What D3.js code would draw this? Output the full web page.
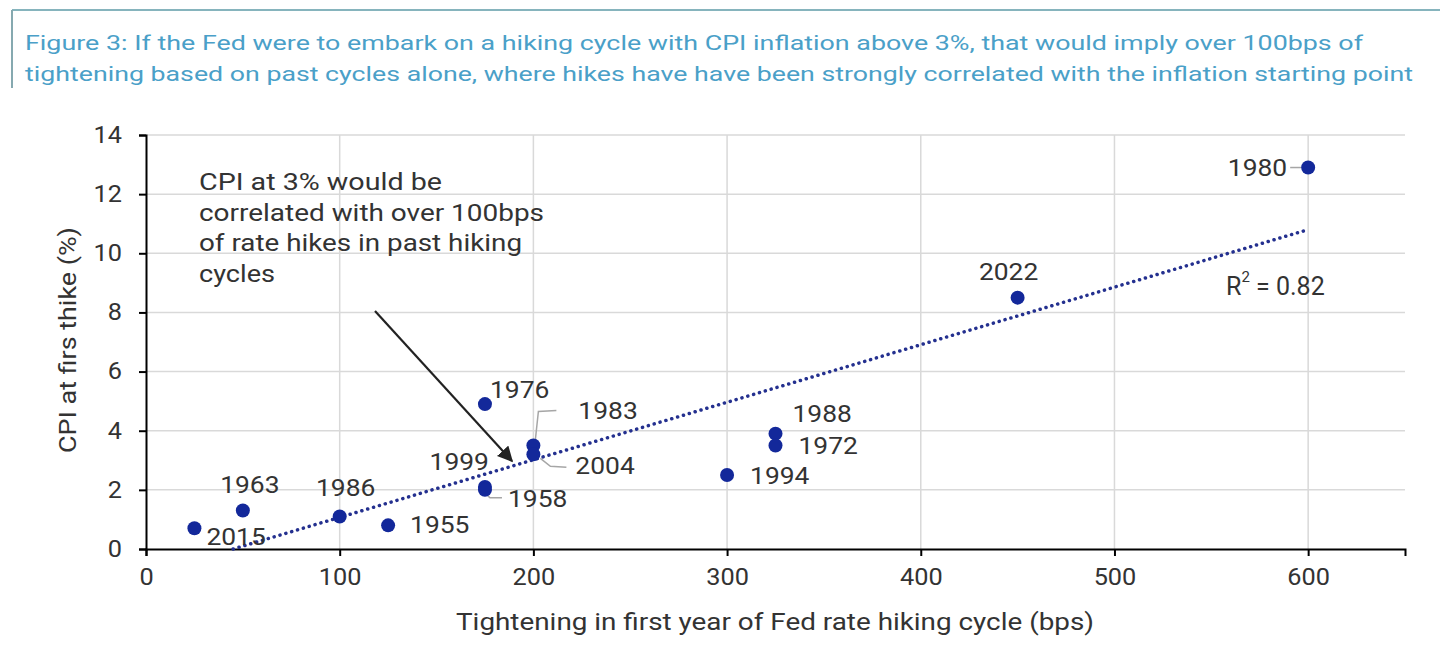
<!DOCTYPE html>
<html>
<head>
<meta charset="utf-8">
<script src="https://cdn.jsdelivr.net/npm/d3@7"></script>
<style>
  body { margin: 0; background: #fff; }
  svg { font-family: Roboto, 'Liberation Sans', sans-serif; }
</style>
</head>
<body>
<div id="container"></div>
<script>
// hiking cycles: year, tightening in first year (bps), CPI at first hike (%)
const years = ['2015', '1963', '1986', '1955', '1976', '1999', '1958', '1983', '2004', '1994', '1988', '1972', '2022', '1980'];
const hikes = [25, 50, 100, 125, 175, 175, 175, 200, 200, 300, 325, 325, 450, 600];
const cpi = [0.7, 1.3, 1.1, 0.8, 4.9, 2.1, 2.0, 3.5, 3.2, 2.5, 3.9, 3.5, 8.5, 12.9];

// linear trend line ends as drawn in the source
const trendX = [45, 600];
const trendY = [0, 10.8];

const xTicks = [0, 100, 200, 300, 400, 500, 600];
const yTicks = [0, 2, 4, 6, 8, 10, 12, 14];

const titleLines = [
  'Figure 3: If the Fed were to embark on a hiking cycle with CPI inflation above 3%, that would imply over 100bps of',
  'tightening based on past cycles alone, where hikes have have been strongly correlated with the inflation starting point'
];
const noteLines = [
  'CPI at 3% would be',
  'correlated with over 100bps',
  'of rate hikes in past hiking',
  'cycles'
];

// label placement: offset from dot in px, anchor, optional leader line
const labelPos = {
  '2015': [12, 9, 'start'],
  '1963': [7, -26, 'middle'],
  '1986': [6, -28, 'middle'],
  '1955': [22, 0, 'start'],
  '1976': [5, -14, 'start'],
  '1999': [4, -25, 'end'],
  '1958': [23, 9, 'start', [[3, 6], [5, 8], [17, 8]]],
  '1983': [45, -35, 'start', [[2, -6], [5, -34], [23, -35]]],
  '2004': [42, 12, 'start', [[7, 4], [17, 12], [33, 13]]],
  '1994': [23, 1, 'start'],
  '1988': [17, -20, 'start'],
  '1972': [23, 0, 'start'],
  '2022': [-9, -26, 'middle'],
  '1980': [-21, 0, 'end', [[-18, 0], [-7, 0]]]
};

const w = 1440;
const h = 648;

// the source text is a little wider than Roboto, stretch it sideways
function stretch(sel, k) {
  sel.each(function () {
    const len = this.getComputedTextLength();
    d3.select(this).attr('textLength', len * k).attr('lengthAdjust', 'spacingAndGlyphs');
  });
}
function fitTo(sel, widths) {
  sel.attr('textLength', (d, i) => widths[i]).attr('lengthAdjust', 'spacingAndGlyphs');
}

const xScale = d3.scaleLinear().domain([0, 650]).range([146, 1405]);
const yScale = d3.scaleLinear().domain([0, 14]).range([549, 135]);

const svg = d3.select('#container').append('svg').attr('width', w).attr('height', h);

// title box
svg.append('line').attr('x1', 12).attr('x2', w).attr('y1', 10).attr('y2', 10)
  .attr('stroke', '#86b4bd').attr('stroke-width', 2);
svg.append('line').attr('x1', 12).attr('x2', 12).attr('y1', 10).attr('y2', 88)
  .attr('stroke', '#86a9b0').attr('stroke-width', 2);
svg.append('g').selectAll('text').data(titleLines).enter().append('text')
  .attr('x', 25).attr('y', (d, i) => 43 + i * 31)
  .attr('dominant-baseline', 'central')
  .attr('fill', '#4aa0c8').style('font-size', '21px')
  .text(d => d)
  .call(fitTo, [1338, 1388]);

// grid
svg.append('g').selectAll('line').data(yTicks.slice(1)).enter().append('line')
  .attr('x1', xScale(0)).attr('x2', xScale(650))
  .attr('y1', d => yScale(d)).attr('y2', d => yScale(d))
  .attr('stroke', '#d9d9d9').attr('stroke-width', 1.5);
svg.append('g').selectAll('line').data(xTicks.slice(1)).enter().append('line')
  .attr('x1', d => xScale(d)).attr('x2', d => xScale(d))
  .attr('y1', yScale(0)).attr('y2', yScale(14))
  .attr('stroke', '#d9d9d9').attr('stroke-width', 1.5);

// axes
const xAxis = d3.axisBottom(xScale).tickValues(xTicks).tickSize(7).tickPadding(13);
svg.append('g').attr('transform', `translate(0, ${yScale(0)})`).call(xAxis)
  .call(g => g.select('.domain').attr('stroke', '#000').attr('stroke-width', 2))
  .call(g => g.selectAll('.tick line').attr('stroke', '#000').attr('stroke-width', 2))
  .call(g => g.selectAll('.tick text').style('font-size', '23px').attr('fill', '#333')
    .style('font-family', 'Roboto').call(stretch, 1.1));

const yAxis = d3.axisLeft(yScale).tickValues(yTicks).tickSize(7).tickPadding(17);
svg.append('g').attr('transform', `translate(${xScale(0)}, 0)`).call(yAxis)
  .call(g => g.select('.domain').attr('stroke', '#000').attr('stroke-width', 2))
  .call(g => g.selectAll('.tick line').attr('stroke', '#000').attr('stroke-width', 2))
  .call(g => g.selectAll('.tick text').style('font-size', '23px').attr('fill', '#333')
    .style('font-family', 'Roboto').call(stretch, 1.1));

// axis titles
svg.append('text').datum('x').attr('x', 775).attr('y', 622)
  .attr('text-anchor', 'middle').attr('dominant-baseline', 'central')
  .attr('fill', '#333').style('font-size', '24px')
  .text('Tightening in first year of Fed rate hiking cycle (bps)')
  .call(fitTo, [638]);
svg.append('text').datum('y')
  .attr('transform', 'translate(68, 340) rotate(-90)')
  .attr('text-anchor', 'middle').attr('dominant-baseline', 'central')
  .attr('fill', '#333').style('font-size', '24px')
  .text('CPI at firs thike (%)')
  .call(fitTo, [226]);

// trend line
svg.append('line')
  .attr('x1', xScale(trendX[0])).attr('y1', yScale(trendY[0]))
  .attr('x2', xScale(trendX[1])).attr('y2', yScale(trendY[1]))
  .attr('stroke', '#24308f').attr('stroke-width', 3.5)
  .attr('stroke-dasharray', '0.1,6').attr('stroke-linecap', 'round');

// points
const pts = years.map((y, i) => ({ year: y, x: hikes[i], y: cpi[i] }));

// leader lines
svg.append('g').selectAll('path').data(pts.filter(d => labelPos[d.year][3])).enter().append('path')
  .attr('d', d => {
    const cx = xScale(d.x), cy = yScale(d.y);
    return d3.line()(labelPos[d.year][3].map(p => [cx + p[0], cy + p[1]]));
  })
  .attr('fill', 'none').attr('stroke', '#a6a6a6').attr('stroke-width', 1.5);

svg.append('g').selectAll('circle').data(pts).enter().append('circle')
  .attr('cx', d => xScale(d.x)).attr('cy', d => yScale(d.y)).attr('r', 7)
  .attr('fill', '#13289a');

svg.append('g').selectAll('text').data(pts).enter().append('text')
  .attr('x', d => xScale(d.x) + labelPos[d.year][0])
  .attr('y', d => yScale(d.y) + labelPos[d.year][1])
  .attr('text-anchor', d => labelPos[d.year][2])
  .attr('dominant-baseline', 'central')
  .attr('fill', '#333').style('font-size', '24px')
  .text(d => d.year)
  .call(stretch, 1.1);

// R squared
const r2 = svg.append('text').attr('x', 1226).attr('y', 286)
  .attr('dominant-baseline', 'central').attr('fill', '#333').style('font-size', '25px');
r2.append('tspan').text('R');
r2.append('tspan').attr('dy', -9).style('font-size', '15px').text('2');
r2.append('tspan').attr('dy', 9).text(' = 0.82');

// annotation
svg.append('g').selectAll('text').data(noteLines).enter().append('text')
  .attr('x', 199).attr('y', (d, i) => 182 + i * 30.5)
  .attr('dominant-baseline', 'central')
  .attr('fill', '#333').style('font-size', '24px')
  .text(d => d)
  .call(fitTo, [243, 345, 323, 76]);

svg.append('defs').append('marker')
  .attr('id', 'arrow').attr('viewBox', '0 0 10 10')
  .attr('refX', 9).attr('refY', 5)
  .attr('markerWidth', 7).attr('markerHeight', 7)
  .attr('markerUnits', 'strokeWidth')
  .attr('orient', 'auto')
  .append('path').attr('d', 'M0,0 L10,5 L0,10 z').attr('fill', '#222');

svg.append('line')
  .attr('x1', 375).attr('y1', 311).attr('x2', 512).attr('y2', 461)
  .attr('stroke', '#222').attr('stroke-width', 2.2)
  .attr('marker-end', 'url(#arrow)');
</script>
</body>
</html>
